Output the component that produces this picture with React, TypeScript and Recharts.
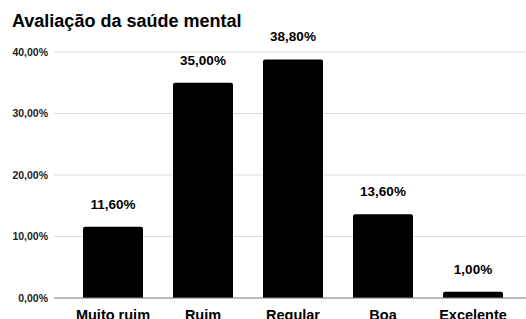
import React from "react";
import { BarChart, Bar, XAxis, YAxis, CartesianGrid, LabelList } from "recharts";

const categories = ["Muito ruim", "Ruim", "Regular", "Boa", "Excelente"];
const values = [11.6, 35.0, 38.8, 13.6, 1.0];
const yTicks = [0, 10, 20, 30, 40];

const data = categories.map((name, i) => ({ name, value: values[i] }));

const pct = (v: number) => v.toFixed(2).replace(".", ",") + "%";

const font = "'Liberation Sans', Arial, sans-serif";

export default function App() {
  return (
    <div style={{ position: "absolute", left: 0, top: 0, width: 526, height: 319, overflow: "hidden", background: "#fff", fontFamily: font }}>
      <div style={{ position: "absolute", left: 12, top: 11, fontSize: 18, lineHeight: "21px", fontWeight: 700, color: "#000" }}>
        Avaliação da saúde mental
      </div>
      <BarChart
        width={526}
        height={319}
        data={data}
        margin={{ top: 52, right: 0, left: 0, bottom: 0 }}
        barSize={60}
      >
        <CartesianGrid vertical={false} stroke="#dcdcdc" />
        <XAxis
          dataKey="name"
          height={21}
          padding={{ left: 14, right: 8 }}
          tickLine={false}
          axisLine={{ stroke: "#888" }}
          tickMargin={6}
          interval={0}
          tick={{ fontSize: 14.5, fontWeight: 700, fill: "#000", fontFamily: font }}
        />
        <YAxis
          width={54}
          domain={[0, 40]}
          ticks={yTicks}
          tickFormatter={pct}
          tickLine={false}
          axisLine={false}
          tickMargin={0}
          tick={{ fontSize: 10.5, fontWeight: 700, fill: "#222", fontFamily: font }}
        />
        <Bar dataKey="value" fill="#000" radius={[2, 2, 0, 0]} isAnimationActive={false}>
          <LabelList
            dataKey="value"
            position="top"
            offset={18}
            formatter={(v: any) => pct(Number(v))}
            style={{ fontSize: 13.5, fontWeight: 700, fill: "#000", fontFamily: font }}
          />
        </Bar>
      </BarChart>
    </div>
  );
}
